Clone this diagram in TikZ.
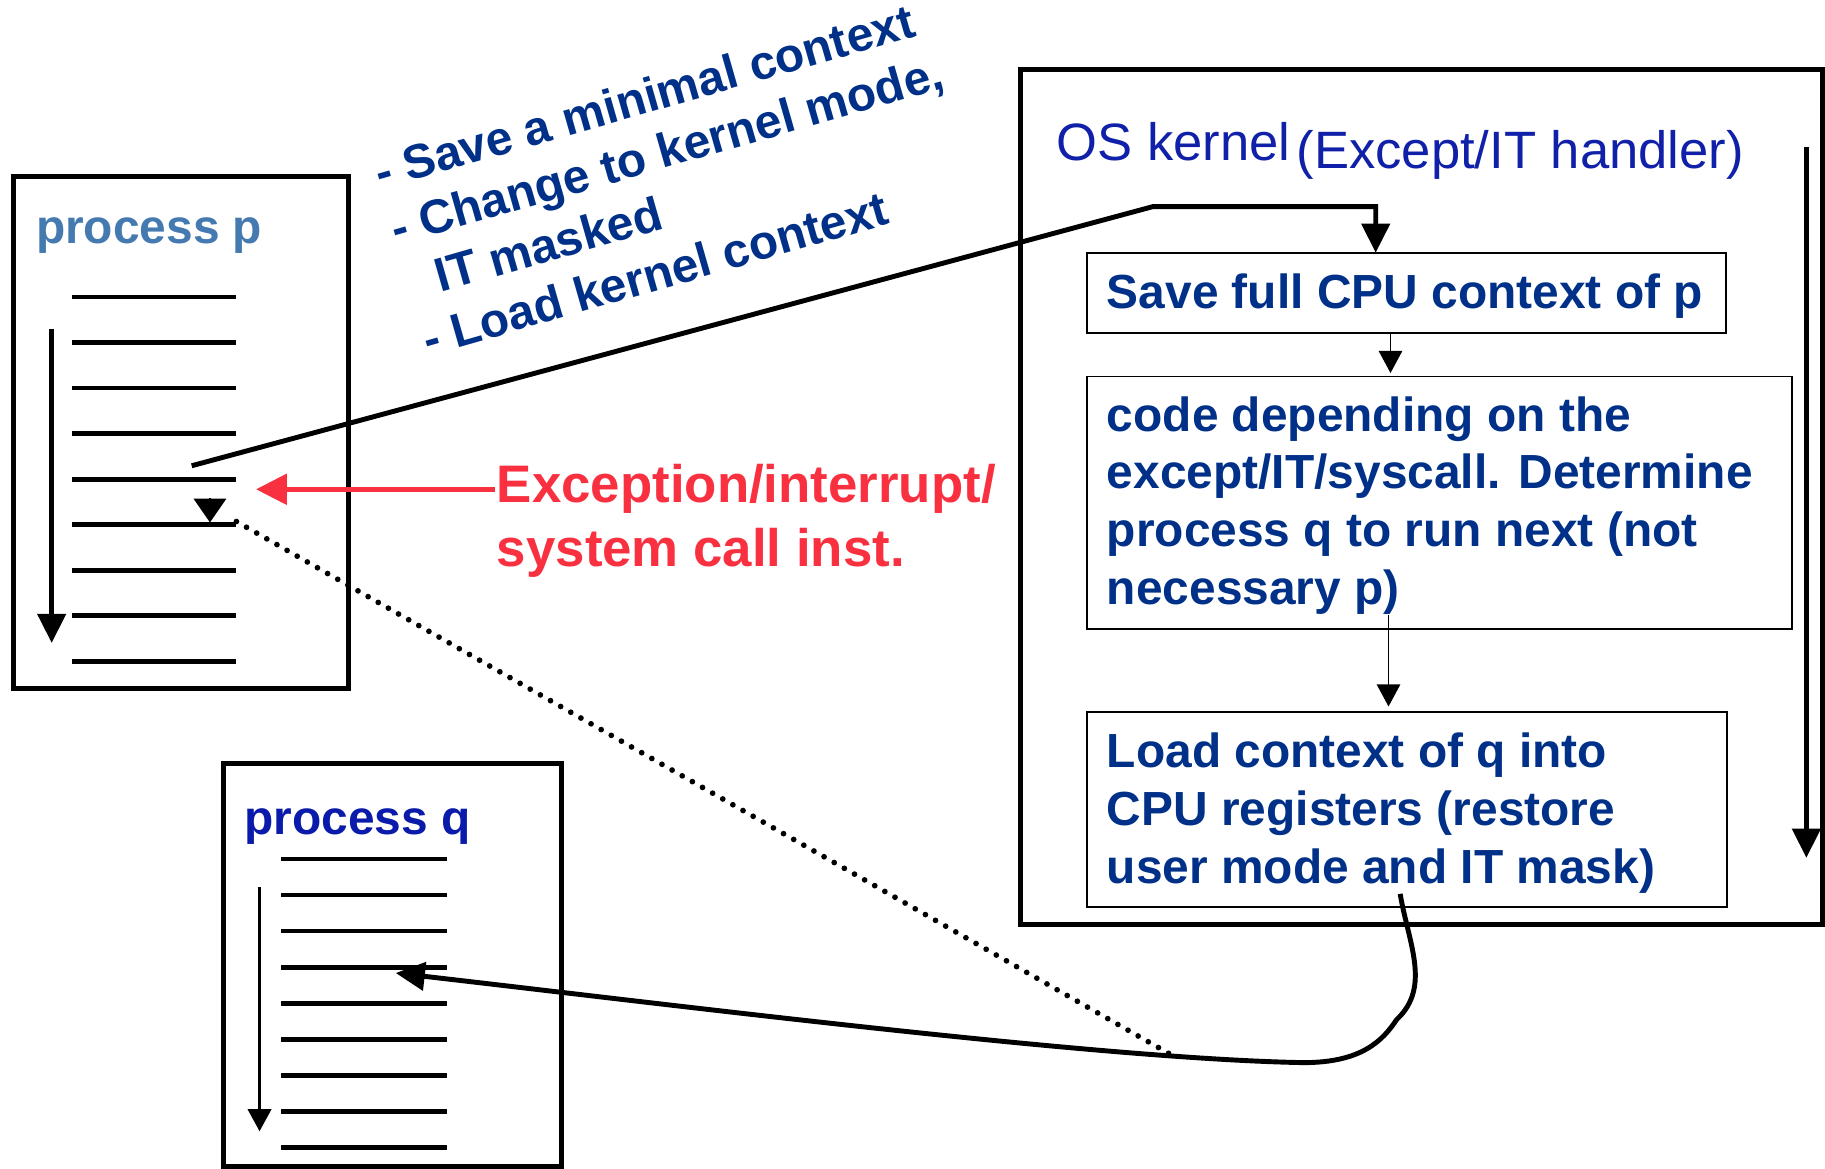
\documentclass[tikz,border=0pt]{standalone}
\usepackage{fontspec}
\setmainfont{Liberation Sans}
\usetikzlibrary{arrows.meta}
\definecolor{pblue}{HTML}{447AB0}
\definecolor{qblue}{HTML}{0A1AAA}
\definecolor{kblue}{HTML}{1020A8}
\definecolor{navy}{HTML}{003087}
\definecolor{alarm}{HTML}{F8303F}
\begin{document}
\begin{tikzpicture}[x=0.01cm,y=-0.01cm,
    every node/.style={inner sep=0pt,outer sep=0pt},
    frame/.style={draw,line width=1.2pt},
    stepbox/.style={draw,line width=0.45pt},
    txt/.style={anchor=base west,align=left},
    boldtxt/.style={txt,font=\bfseries\fontsize{11.7pt}{14.1pt}\selectfont},
    codeline/.style={line width=1.15pt},
    bigarrow/.style={line width=1.2pt,-{Triangle[length=0.25cm,width=0.24cm]}},
    thinarrow/.style={line width=0.45pt,-{Triangle[length=0.19cm,width=0.2cm]}},
    redarrow/.style={draw=alarm,line width=1.15pt,-{Triangle[length=0.265cm,width=0.26cm]}},
    dotline/.style={line width=1.4pt,line cap=round,dash pattern=on 0pt off 2.85pt}]
  \useasboundingbox (0,0) rectangle (1568,1004);

  \node[frame,minimum width=2.878cm,minimum height=4.401cm] (procp) at (155.4,371.65) {};
  \node[frame,minimum width=2.896cm,minimum height=3.456cm] (procq) at (337.2,829.2) {};
  \node[frame,minimum width=6.887cm,minimum height=7.339cm] (kernel) at (1221.65,427.05) {};
  \node[stepbox,minimum width=5.492cm,minimum height=0.687cm] (save) at (1208.4,251.5) {};
  \node[stepbox,minimum width=6.059cm,minimum height=2.165cm] (code) at (1236.75,431.85) {};
  \node[stepbox,minimum width=5.502cm,minimum height=1.671cm] (load) at (1208.9,695.65) {};

  \node[boldtxt,text=pblue] (ptitle) at (31,209) {process p};
  \node[boldtxt,text=qblue] (qtitle) at (210,717) {process q};
  \node[txt,text=kblue,font=\fontsize{12.85pt}{15pt}\selectfont] (kname) at (908,137.5) {OS kernel};
  \node[txt,text=kblue,font=\fontsize{12.85pt}{15pt}\selectfont] (kwhat) at (1114,144.6) {(Except/IT handler)};
  \node[boldtxt,text=navy] (savetxt) at (951,265) {Save full CPU context of p};
  \node[boldtxt,text=navy] (codetxt) at (951,519.3) {code depending on the\\except/IT/syscall. Determine\\process q to run next (not\\necessary p)};
  \node[boldtxt,text=navy] (loadtxt) at (951,758.8) {Load context of q into\\CPU registers (restore\\user mode and IT mask)};
  \node[txt,text=alarm,font=\bfseries\fontsize{12.9pt}{15.6pt}\selectfont] (exc) at (427,487) {Exception/interrupt/\\system call inst.};
  \node[txt,text=navy,rotate=16,font=\bfseries\fontsize{11.7pt}{14.1pt}\selectfont] (steps) at (368,306) {- Save a minimal context\\- Change to kernel mode,\\\hphantom{- }IT masked\\- Load kernel context};

  \foreach \k in {0,...,8} {
    \draw[codeline] (61.6,{255.3+39.1*\k}) -- (202.5,{255.3+39.1*\k});
    \draw[codeline] (241.7,{738+31*\k}) -- (384.2,{738+31*\k});
  }
  \draw[bigarrow] (44.4,283) -- (44.4,552.4);
  \draw[thinarrow,line width=0.7pt] (223,762) -- (223,972);
  \draw[bigarrow] (1552,126) -- (1552,737);

  \coordinate (pout) at (164.7,400.2);
  \coordinate (bend) at (990.3,177.6);
  \draw[bigarrow] (pout) -- (bend) -| ([xshift=-0.264cm]save.north);
  \draw[thinarrow] ([xshift=-0.137cm]save.south) -- ([xshift=-0.137cm,yshift=0.03cm]save.south |- code.north);
  \coordinate (cout) at (1193,528);
  \draw[thinarrow] (cout) -- ([yshift=0.05cm]cout |- load.north);

  \coordinate (excin) at (425,420.4);
  \coordinate (excat) at (220,420.4);
  \draw[redarrow] (excin) -- (excat);

  \coordinate (lout) at (1203,768);
  \coordinate (kink) at (1200,876);
  \coordinate (low) at (1120,913);
  \coordinate (qin) at (340,836);
  \draw[bigarrow] (lout) .. controls (1210,810) and (1230,848) .. (kink)
    .. controls (1188,894) and (1170,913) .. (low)
    .. controls (950,910) and (600,866) .. (qin);

  \coordinate (dstart) at (1004,905);
  \coordinate (dend) at (196,444);
  \coordinate (pret) at (180.4,448.9);
  \draw[dotline] (dstart) -- (dend);
  \draw[line width=0.4pt,-{Triangle[length=0.205cm,width=0.28cm]}] ([yshift=0.21cm]pret) -- (pret);
\end{tikzpicture}
\end{document}
